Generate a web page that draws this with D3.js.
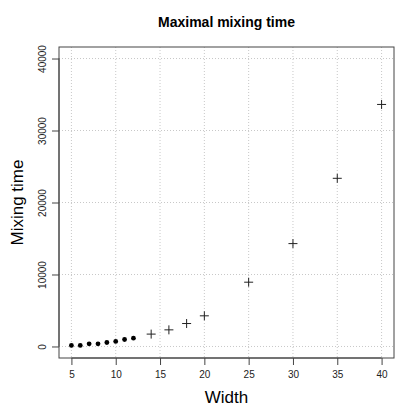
<!DOCTYPE html>
<html>
<head>
<meta charset="utf-8">
<title>Maximal mixing time</title>
<style>
body { margin: 0; background: white; font-family: 'Liberation Sans', Arial, sans-serif; }
.grid line { stroke: #c8c8c8; stroke-dasharray: 1,2; }
</style>
<script src="https://cdn.jsdelivr.net/npm/d3@7"></script>
</head>
<body>
<script>
var exactWidths = [5, 6, 7, 8, 9, 10, 11, 12];
var exactTimes = [140, 140, 370, 370, 555, 700, 970, 1160];
var estWidths = [14, 16, 18, 20, 25, 30, 35, 40];
var estTimes = [1720, 2310, 3190, 4260, 8930, 14290, 23360, 33620];
var xTicks = [5, 10, 15, 20, 25, 30, 35, 40];
var yTicks = [0, 10000, 20000, 30000, 40000];

var width = 407, height = 407;
var plotLeft = 59, plotRight = 394, plotTop = 47, plotBottom = 358;

var svg = d3.select('body').append('svg')
    .attr('width', width)
    .attr('height', height);

// R style: 4% padding on each side
var x = d3.scaleLinear().domain([3.6, 41.4]).range([plotLeft, plotRight]);
var y = d3.scaleLinear().domain([-1600, 41600]).range([plotBottom, plotTop]);

// grid
var grid = svg.append('g').attr('class', 'grid');
grid.selectAll('.vx').data(xTicks).enter().append('line')
    .attr('x1', d => x(d)).attr('x2', d => x(d))
    .attr('y1', plotTop).attr('y2', plotBottom);
grid.selectAll('.hy').data(yTicks).enter().append('line')
    .attr('x1', plotLeft).attr('x2', plotRight)
    .attr('y1', d => y(d)).attr('y2', d => y(d));

// axes
var xAxis = d3.axisBottom(x).tickValues(xTicks).tickSize(7).tickPadding(6);
var gx = svg.append('g').attr('transform', 'translate(0,' + plotBottom + ')').call(xAxis);
gx.select('.domain').attr('d', 'M' + x(5) + ',0H' + x(40)).attr('stroke', '#444');
gx.selectAll('.tick line').attr('stroke', '#444');
gx.selectAll('.tick text').attr('font-size', 10).attr('font-family', "'Liberation Sans', Arial, sans-serif").attr('fill', '#222');

var yAxis = d3.axisLeft(y).tickValues(yTicks).tickSize(7).tickFormat(d3.format('d'));
var gy = svg.append('g').attr('transform', 'translate(' + plotLeft + ',0)').call(yAxis);
gy.select('.domain').attr('d', 'M0,' + y(0) + 'V' + y(40000)).attr('stroke', '#444');
gy.selectAll('.tick line').attr('stroke', '#444');
gy.selectAll('.tick text')
    .attr('font-size', 10)
    .attr('font-family', "'Liberation Sans', Arial, sans-serif")
    .attr('fill', '#222')
    .attr('x', null).attr('dy', null)
    .attr('text-anchor', 'middle')
    .attr('transform', 'translate(-13,0) rotate(-90)');

// plot box
svg.append('rect')
    .attr('x', plotLeft).attr('y', plotTop)
    .attr('width', plotRight - plotLeft).attr('height', plotBottom - plotTop)
    .attr('fill', 'none').attr('stroke', '#444').attr('stroke-width', 1);

// exact values: filled dots
svg.selectAll('.dot').data(exactWidths).enter().append('circle')
    .attr('cx', d => x(d))
    .attr('cy', (d, i) => y(exactTimes[i]))
    .attr('r', 2.4)
    .attr('fill', '#000');

// estimates: plus signs
svg.selectAll('.plus').data(estWidths).enter().append('path')
    .attr('d', (d, i) => {
        var cx = x(d), cy = y(estTimes[i]);
        return 'M' + (cx - 4.5) + ',' + cy + 'H' + (cx + 4.5) + 'M' + cx + ',' + (cy - 4.5) + 'V' + (cy + 4.5);
    })
    .attr('stroke', '#222').attr('stroke-width', 1).attr('fill', 'none');

// titles
svg.append('text')
    .attr('x', (plotLeft + plotRight) / 2).attr('y', 27)
    .attr('text-anchor', 'middle')
    .attr('font-size', 14).attr('font-weight', 'bold')
    .text('Maximal mixing time');

svg.append('text')
    .attr('x', (plotLeft + plotRight) / 2).attr('y', 403)
    .attr('text-anchor', 'middle')
    .attr('font-size', 17)
    .text('Width');

svg.append('text')
    .attr('transform', 'translate(23,' + (plotTop + plotBottom) / 2 + ') rotate(-90)')
    .attr('text-anchor', 'middle')
    .attr('font-size', 17)
    .text('Mixing time');
</script>
</body>
</html>
